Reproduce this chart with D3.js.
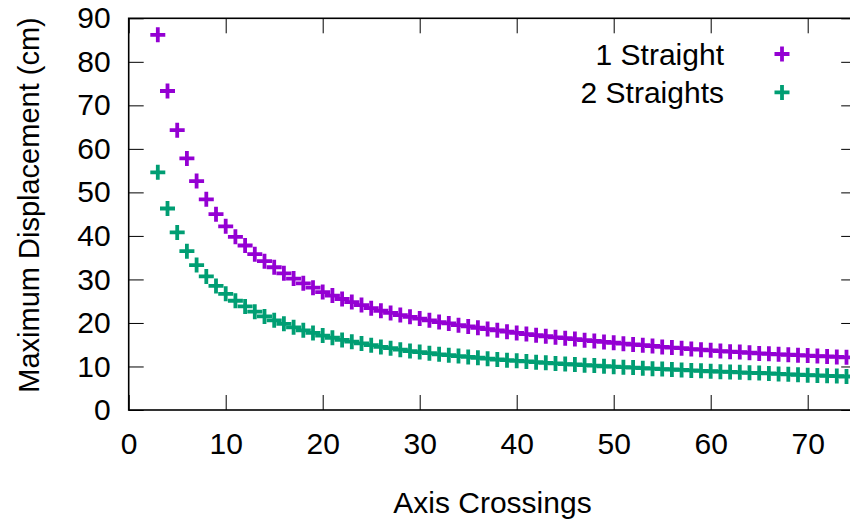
<!DOCTYPE html>
<html>
<head>
<meta charset="utf-8">
<script src="https://cdn.jsdelivr.net/npm/d3@7/dist/d3.min.js"></script>
<style>
  html, body { margin: 0; padding: 0; background: #fff; overflow: hidden; }
  svg { display: block; font-family: "Liberation Sans", Arial, sans-serif; }
</style>
</head>
<body>
<svg id="chart" width="850" height="522"></svg>
<script>
// ---- data ----
const crossings = d3.range(3, 75); // 3 .. 74 (category positions)
const oneStraight = [
  86.2, 73.3, 64.3, 57.8, 52.6, 48.4, 45.0, 42.2, 39.8, 37.8,
  35.8, 34.2, 32.8, 31.4, 30.2, 29.1, 28.1, 27.1, 26.3, 25.5,
  24.8, 24.1, 23.4, 22.8, 22.3, 21.8, 21.4, 21.0, 20.6, 20.2,
  19.9, 19.5, 19.2, 18.9, 18.6, 18.3, 18.0, 17.7, 17.45, 17.2,
  16.95, 16.7, 16.5, 16.3, 16.05, 15.85, 15.65, 15.45, 15.25, 15.05,
  14.9, 14.7, 14.5, 14.35, 14.2, 14.0, 13.85, 13.7, 13.55, 13.4,
  13.3, 13.15, 13.0, 12.9, 12.8, 12.7, 12.6, 12.5, 12.4, 12.3,
  12.2, 12.1
];
const twoStraights = [
  54.6, 46.3, 40.8, 36.5, 33.3, 30.7, 28.5, 26.7, 25.1, 23.8,
  22.6, 21.5, 20.6, 19.8, 19.0, 18.3, 17.7, 17.1, 16.6, 16.1,
  15.7, 15.3, 14.9, 14.5, 14.2, 13.85, 13.55, 13.3, 13.05, 12.8,
  12.6, 12.4, 12.2, 12.0, 11.8, 11.6, 11.45, 11.3, 11.15, 11.0,
  10.85, 10.7, 10.55, 10.45, 10.3, 10.2, 10.05, 9.95, 9.85, 9.75,
  9.6, 9.5, 9.4, 9.3, 9.2, 9.1, 9.0, 8.9, 8.8, 8.75,
  8.65, 8.55, 8.5, 8.4, 8.3, 8.2, 8.1, 8.0, 7.95, 7.85,
  7.8, 7.7
];
const seriesNames = ["1 Straight", "2 Straights"];
const xTicks = [0, 10, 20, 30, 40, 50, 60, 70];
const yTicks = [0, 10, 20, 30, 40, 50, 60, 70, 80, 90];
const xTitle = "Axis Crossings";
const yTitle = "Maximum Displacement (cm)";

// ---- layout ----
const colors = ["#9400D3", "#009E73"];
const L = 128.7, R = 856.2, T = 18.3, B = 410;
const FS = 30;

const svg = d3.select("#chart");
const x = d3.scaleLinear().domain([0, 75]).range([L, R]);
const y = d3.scaleLinear().domain([0, 90]).range([B, T]);

function styleAxis(g) {
  g.select(".domain").remove();
  g.selectAll(".tick line").attr("stroke", "#000").attr("stroke-width", 1);
  g.selectAll(".tick text").attr("fill", "#000").style("font-size", FS + "px")
    .style("font-family", '"Liberation Sans", Arial, sans-serif');
}

svg.append("g").attr("transform", `translate(0,${B})`)
  .call(d3.axisBottom(x).tickValues(xTicks).tickSizeInner(-15).tickSizeOuter(0).tickPadding(23))
  .call(styleAxis);
svg.append("g").attr("transform", `translate(${L},0)`)
  .call(d3.axisLeft(y).tickValues(yTicks).tickSizeInner(-15).tickSizeOuter(0).tickPadding(18))
  .call(styleAxis);
svg.append("g").attr("transform", `translate(0,${T})`)
  .call(d3.axisTop(x).tickValues(xTicks).tickFormat("").tickSizeInner(-15).tickSizeOuter(0))
  .call(styleAxis);
svg.append("g").attr("transform", `translate(${R},0)`)
  .call(d3.axisRight(y).tickValues(yTicks).tickFormat("").tickSizeInner(-15).tickSizeOuter(0))
  .call(styleAxis);

svg.append("rect")
  .attr("x", L).attr("y", T).attr("width", R - L).attr("height", B - T)
  .attr("fill", "none").attr("stroke", "#000").attr("stroke-width", 1.6);

// titles
svg.append("text")
  .attr("x", (L + R) / 2).attr("y", 513)
  .attr("text-anchor", "middle").style("font-size", FS + "px").attr("fill", "#000")
  .text(xTitle);
svg.append("text")
  .attr("transform", `translate(39,205) rotate(-90)`)
  .attr("text-anchor", "middle").style("font-size", "29px").attr("fill", "#000")
  .text(yTitle);

// plus marker
const plus = "M-7.5,0H7.5M0,-7.5V7.5";

svg.append("clipPath").attr("id", "plotclip")
  .append("rect").attr("x", L).attr("y", T).attr("width", R - L).attr("height", B - T);

const plotG = svg.append("g").attr("clip-path", "url(#plotclip)");
[oneStraight, twoStraights].forEach((vals, si) => {
  plotG.append("g").selectAll("path")
    .data(vals.map((v, i) => ({ x: crossings[i], y: v })))
    .join("path")
    .attr("d", plus)
    .attr("transform", d => `translate(${x(d.x)},${y(d.y)})`)
    .attr("stroke", colors[si]).attr("stroke-width", 3.8).attr("fill", "none");
});

// legend
const legend = svg.append("g");
seriesNames.forEach((name, i) => {
  const cy = 54 + i * 38.4;
  legend.append("text")
    .attr("x", 724).attr("y", cy).attr("dy", "0.36em")
    .attr("text-anchor", "end").style("font-size", FS + "px").attr("fill", "#000")
    .text(name);
  legend.append("path")
    .attr("d", plus).attr("transform", `translate(782,${cy})`)
    .attr("stroke", colors[i]).attr("stroke-width", 3.8).attr("fill", "none");
});
</script>
</body>
</html>
